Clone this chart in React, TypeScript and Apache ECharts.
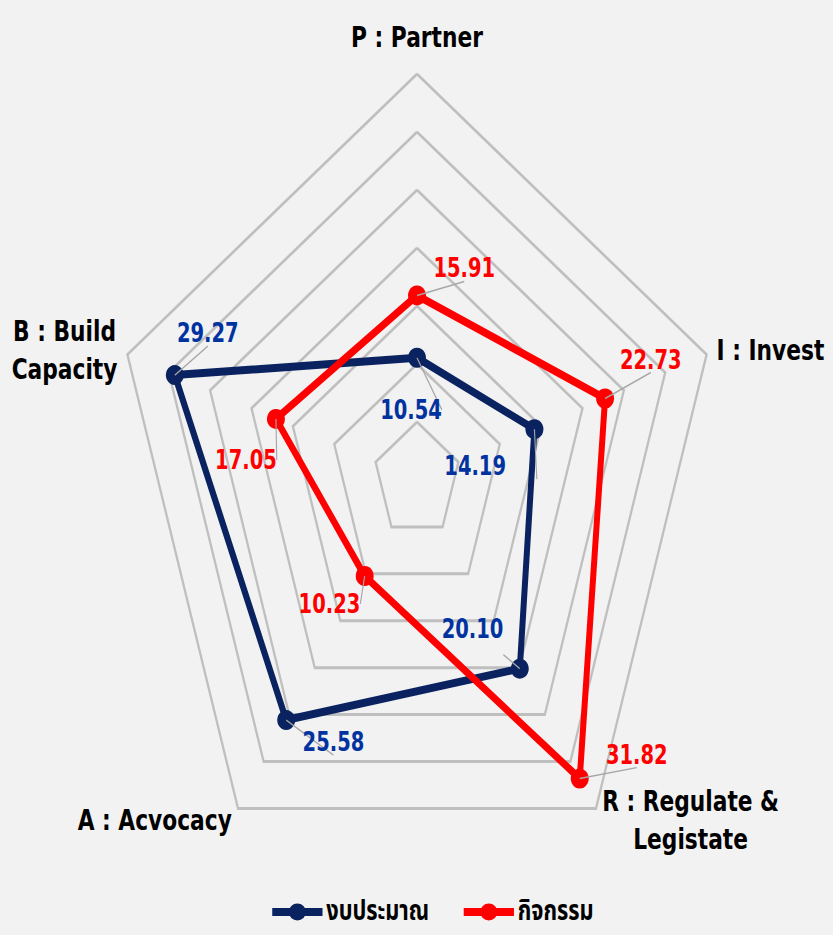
import React, { useEffect, useRef } from 'react';
import * as echarts from 'echarts';

// Indicators in ECharts radar order (counter-clockwise from top)
const indicatorNames = ['P : Partner', 'B : Build\nCapacity', 'A : Acvocacy', 'R : Regulate &\nLegistate', 'I : Invest'];
const seriesNames = ['งบประมาณ', 'กิจกรรม'];
const budgetValues = [10.54, 29.27, 25.58, 20.1, 14.19];
const activityValues = [15.91, 17.05, 10.23, 31.82, 22.73];
const axisMax = 35;
const ringCount = 7;

// label offsets (style only), same order as indicators
const budgetLabelOffsets = [[-8, 52], [44, -42], [63, 22], [-63, -40], [-79, 37]];
const activityLabelOffsets = [[63, -27], [-40, 41], [-47, 28], [76, -24], [61, -39]];

const SX = 0.75;
const W = 833 / SX;
const H = 935;
const CX = 556;
const CY = 480;
const RADIUS = 406;

const NAVY = '#0a2360';
const NAVY_TEXT = '#0033a0';
const RED = '#ff0000';
const FONT = "'DejaVu Sans', Tahoma, Verdana, sans-serif";

export default function App() {
  const ref = useRef<HTMLDivElement>(null);
  useEffect(() => {
    if (!ref.current) return;
    const chart = echarts.init(ref.current, undefined, { renderer: 'svg' });
    const n = indicatorNames.length;
    const toPoints = (vals: number[], offs: number[][]) =>
      vals.map((v, i) => ({
        value: [v, (i * 360) / n],
        label: { offset: offs[i] },
      }));
    const legendIcon =
      'path://M0,6 L67,6 L67,14 L0,14 Z M45,10 A11.5,8.5 0 1,1 22,10 A11.5,8.5 0 1,1 45,10 Z';
    const labelStyle = (color: string) => ({
      show: true,
      position: 'inside',
      color,
      fontSize: 26,
      fontWeight: 'bold',
      fontFamily: FONT,
      textBorderWidth: 0,
      textBorderColor: 'transparent',
      opacity: 1,
      formatter: (p: any) => Number(p.value[0]).toFixed(2),
    });
    chart.setOption({
      animation: false,
      backgroundColor: '#f2f2f2',
      radar: {
        center: [CX, CY],
        radius: RADIUS,
        startAngle: 90,
        splitNumber: ringCount,
        shape: 'polygon',
        nameGap: 14,
        indicator: indicatorNames.map((name) => ({ name, min: 0, max: axisMax })),
        axisName: {
          color: '#000',
          fontSize: 29,
          fontWeight: 'bold',
          fontFamily: FONT,
          lineHeight: 38,
          formatter: (name: string) =>
            name
              .split('\n')
              .map((l) => (name === indicatorNames[0] ? '{p|' : '{c|') + l + '}')
              .join('\n'),
          rich: {
            c: {
              align: 'center',
              color: '#000',
              fontSize: 29,
              fontWeight: 'bold',
              fontFamily: FONT,
              lineHeight: 38,
            },
            p: {
              align: 'center',
              color: '#000',
              fontSize: 29,
              fontWeight: 'bold',
              fontFamily: FONT,
              lineHeight: 46,
            },
          },
        },
        axisLine: { show: false },
        axisTick: { show: false },
        axisLabel: { show: false },
        splitArea: { show: false },
        splitLine: { lineStyle: { color: '#bfbfbf', width: 3 } },
      },
      polar: { center: [CX, CY], radius: RADIUS },
      angleAxis: {
        type: 'value',
        min: 0,
        max: 360,
        startAngle: 90,
        clockwise: false,
        show: false,
      },
      radiusAxis: { type: 'value', min: 0, max: axisMax, show: false },
      legend: {
        data: seriesNames,
        left: 363,
        top: 897,
        padding: 0,
        itemWidth: 67,
        itemHeight: 17,
        itemGap: 46,
        icon: legendIcon,
        textStyle: {
          fontSize: 29,
          lineHeight: 30,
          fontWeight: 'bold',
          color: '#000',
          fontFamily: "'Noto Sans Thai', 'Noto Sans', 'DejaVu Sans', sans-serif",
        },
      },
      series: [
        {
          type: 'radar',
          symbol: 'circle',
          symbolSize: [24, 20],
          z: 2,
          data: [
            {
              name: seriesNames[0],
              value: budgetValues,
              lineStyle: { color: NAVY, width: 8 },
              itemStyle: { color: NAVY },
            },
            {
              name: seriesNames[1],
              value: activityValues,
              lineStyle: { color: RED, width: 8 },
              itemStyle: { color: RED },
            },
          ],
        },
        {
          type: 'scatter',
          coordinateSystem: 'polar',
          symbolSize: 0.1,
          z: 5,
          itemStyle: { color: '#f2f2f2', opacity: 1 },
          label: labelStyle(NAVY_TEXT),
          labelLine: { show: true, lineStyle: { color: '#a6a6a6', width: 1.5 } },
          data: toPoints(budgetValues, budgetLabelOffsets),
        },
        {
          type: 'scatter',
          coordinateSystem: 'polar',
          symbolSize: 0.1,
          z: 5,
          itemStyle: { color: '#f2f2f2', opacity: 1 },
          label: labelStyle(RED),
          labelLine: { show: true, lineStyle: { color: '#a6a6a6', width: 1.5 } },
          data: toPoints(activityValues, activityLabelOffsets),
        },
      ],
    });
    return () => chart.dispose();
  }, []);
  return (
    <div
      style={{
        position: 'fixed',
        left: 0,
        top: 0,
        width: 833,
        height: H,
        overflow: 'hidden',
        background: '#f2f2f2',
      }}
    >
      <div
        ref={ref}
        style={{
          width: W,
          height: H,
          transform: `scaleX(${SX})`,
          transformOrigin: '0 0',
        }}
      />
    </div>
  );
}
